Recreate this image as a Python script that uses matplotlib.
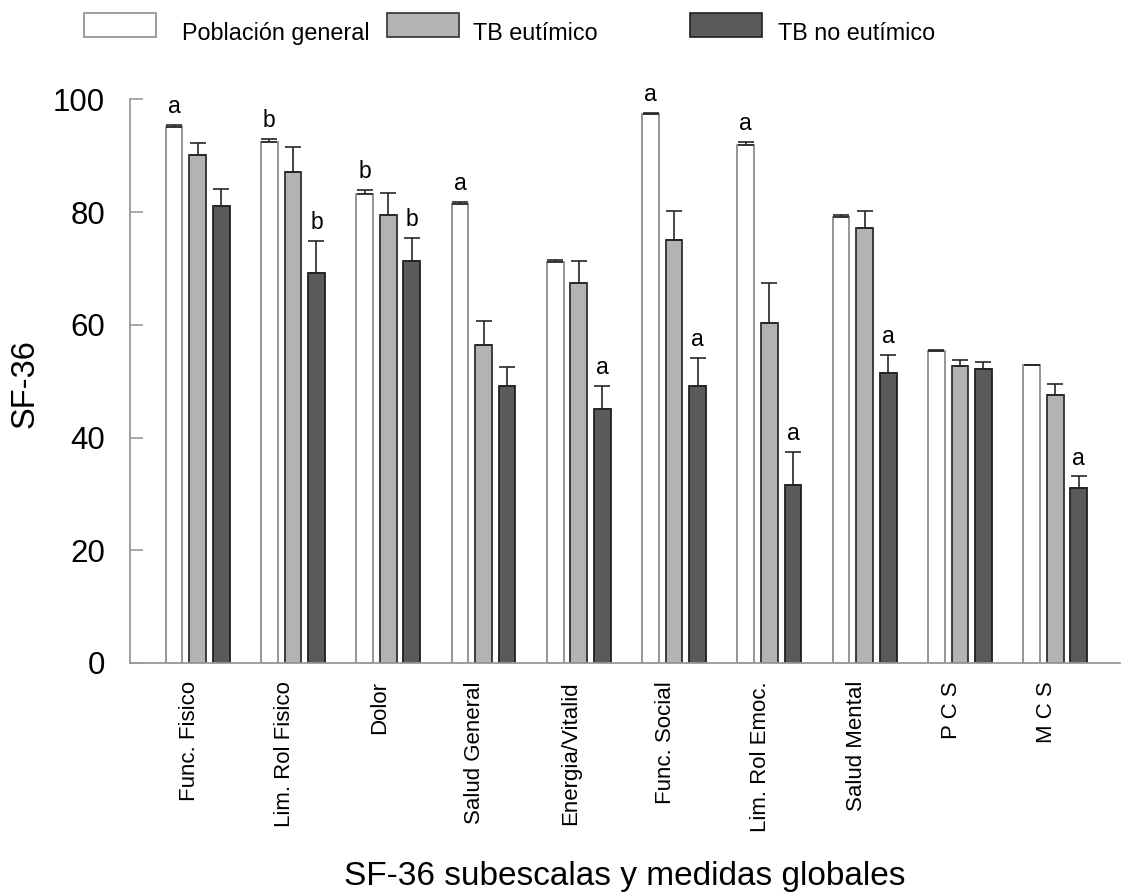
"""SF-36 subscales: general population vs euthymic / non-euthymic bipolar patients"""

import numpy as np
import matplotlib
matplotlib.use("Agg")
from matplotlib import pyplot as plt
from matplotlib.patches import Rectangle

categories = ["Func. Fisico", "Lim. Rol Fisico", "Dolor", "Salud General",
              "Energia/Vitalid", "Func. Social", "Lim. Rol Emoc.",
              "Salud Mental", "P C S", "M C S"]
series_names = ["Población general", "TB eutímico", "TB no eutímico"]

general = [95.1, 92.4, 83.3, 81.4, 71.2, 97.4, 91.9, 79.2, 55.4, 52.8]
general_err = [0.3, 0.6, 0.7, 0.4, 0.4, 0.2, 0.6, 0.3, 0.1, 0.1]
eutimico = [90.2, 87.1, 79.5, 56.4, 67.5, 75.0, 60.4, 77.2, 52.7, 47.5]
eutimico_err = [2.0, 4.4, 3.9, 4.3, 3.9, 5.3, 7.1, 3.1, 1.1, 2.0]
no_eutimico = [81.1, 69.2, 71.4, 49.1, 45.0, 49.1, 31.6, 51.4, 52.2, 31.0]
no_eutimico_err = [3.0, 5.7, 4.1, 3.4, 4.1, 5.0, 5.9, 3.3, 1.3, 2.1]

letters_general = ["a", "b", "b", "a", "", "a", "a", "", "", ""]
letters_eutimico = [""] * 10
letters_no_eutimico = ["", "b", "b", "", "a", "a", "a", "a", "", "a"]

values = [general, eutimico, no_eutimico]
errors = [general_err, eutimico_err, no_eutimico_err]
letters = [letters_general, letters_eutimico, letters_no_eutimico]
fills = ["white", "#b3b3b3", "#5a5a5a"]
edges = ["#8c8c8c", "#303030", "#202020"]

plt.rcParams["font.family"] = ["Liberation Sans", "DejaVu Sans"]

fig = plt.figure(figsize=(11.22, 8.96), dpi=100)
ax = fig.add_axes([130 / 1122, 1 - 663 / 896, 990 / 1122, (663 - 99.5) / 896])

x = np.arange(len(categories))
width = 0.175
step = 0.247
for i in range(3):
    xs = x + (i - 1) * step
    ax.bar(xs, values[i], width, color=fills[i], edgecolor=edges[i],
           linewidth=1.3, zorder=2)
    ax.errorbar(xs, values[i], yerr=[np.zeros(len(x)), errors[i]], fmt="none",
                ecolor="#262626", elinewidth=1.2, capsize=5.8, capthick=1.2,
                zorder=3)
    for xi, v, e, lab in zip(xs, values[i], errors[i], letters[i]):
        if lab:
            ax.annotate(lab, (xi, v + e), xytext=(0, 5), textcoords="offset points",
                        ha="center", va="bottom", fontsize=16.5, clip_on=False)

ax.set_xlim(-0.71, 9.68)
ax.set_ylim(0, 100)
ax.set_yticks([0, 20, 40, 60, 80, 100])
ax.set_xticks(x - 0.09)
ax.set_xticklabels(categories, rotation=90, fontsize=16)
ax.tick_params(axis="x", length=0, pad=13)
ax.tick_params(axis="y", direction="in", length=9, width=1.2, color="#999999",
               labelsize=22.5, pad=18)

for side in ["top", "right"]:
    ax.spines[side].set_visible(False)
for side in ["left", "bottom"]:
    ax.spines[side].set_color("#999999")
    ax.spines[side].set_linewidth(1.3)

ax.set_xlabel("SF-36 subescalas y medidas globales", fontsize=24)
ax.xaxis.set_label_coords(0.5, -0.352)
fig.text(25 / 1122, 1 - 384 / 896, "SF-36", rotation=90, fontsize=23.5,
         ha="center", va="center")

# Legend drawn across the top, boxes on a fixed pitch.
box_left = [84, 387, 690]
text_left = [182, 473, 778]
for i, name in enumerate(series_names):
    fig.add_artist(Rectangle((box_left[i] / 1122, 1 - 37 / 896), 72 / 1122, 24 / 896,
                             facecolor=fills[i], edgecolor=edges[i], linewidth=1.2,
                             transform=fig.transFigure))
    fig.text(text_left[i] / 1122, 1 - 40 / 896, name, fontsize=16.8,
             ha="left", va="baseline")

fig.savefig("out.png", dpi=100)
